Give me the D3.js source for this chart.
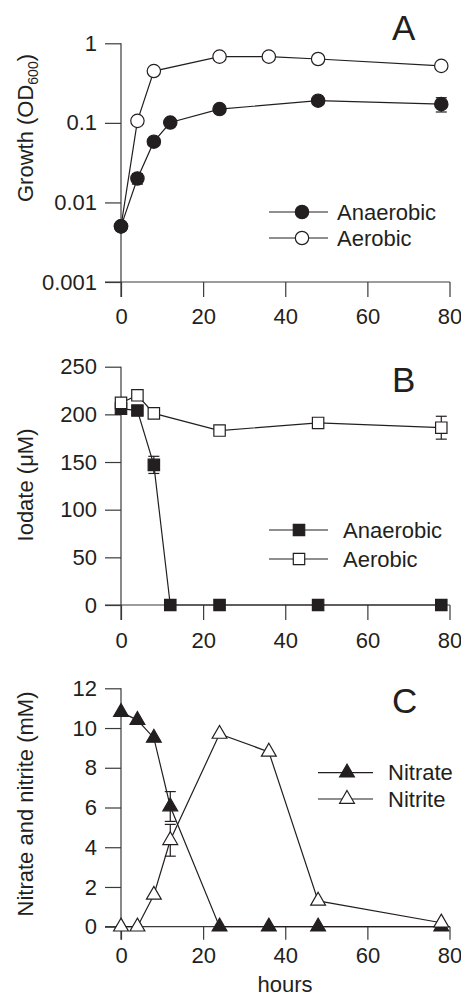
<!DOCTYPE html>
<html>
<head>
<meta charset="utf-8">
<script src="https://cdn.jsdelivr.net/npm/d3@7"></script>
<style>
  body { margin: 0; background: #fff; }
  svg { display: block; }
  text { font-family: "Liberation Sans", Arial, sans-serif; fill: #231f20; }
</style>
</head>
<body>
<svg id="chart"></svg>
<script>
// panel A - growth
var hoursAnaerobicA = [0, 4, 8, 12, 24, 48, 78];
var growthAnaerobic = [0.005, 0.02, 0.058, 0.101, 0.149, 0.19, 0.172];
var growthAnaerobicErr = [0, 0.003, 0, 0, 0, 0, 0.035];
var hoursAerobicA = [0, 4, 8, 24, 36, 48, 78];
var growthAerobic = [0.005, 0.106, 0.448, 0.68, 0.68, 0.635, 0.52];
var growthTicks = [1, 0.1, 0.01, 0.001];
var growthTickLabels = ['1', '0.1', '0.01', '0.001'];

// panel B - iodate
var hoursAnaerobicB = [0, 4, 8, 12, 24, 48, 78];
var iodateAnaerobic = [206, 204, 147, 0, 0, 0, 0];
var iodateAnaerobicErr = [0, 0, 9, 0, 0, 0, 0];
var hoursAerobicB = [0, 4, 8, 24, 48, 78];
var iodateAerobic = [212, 220, 201, 183, 191, 186];
var iodateAerobicErr = [0, 0, 0, 0, 0, 12];
var iodateTicks = [0, 50, 100, 150, 200, 250];

// panel C - nitrate / nitrite
var hoursC = [0, 4, 8, 12, 24, 36, 48, 78];
var nitrate = [10.8, 10.4, 9.5, 6.05, 0, 0, 0, 0];
var nitrateErr = [0, 0, 0, 0.75, 0, 0, 0, 0];
var nitrite = [0, 0, 1.6, 4.35, 9.7, 8.8, 1.3, 0.2];
var nitriteErr = [0, 0, 0, 0.8, 0, 0, 0, 0];
var nitrogenTicks = [0, 2, 4, 6, 8, 10, 12];

var hourTicks = [0, 20, 40, 60, 80];

var width = 461, height = 997;
var ink = '#231f20', axisInk = '#3a3a3a';

var svg = d3.select('#chart')
  .attr('width', width)
  .attr('height', height);

var x = d3.scaleLinear().domain([0, 80]).range([121, 449.5]);

function zip(xs, ys, es) {
  return xs.map(function(d, i) { return {x: d, y: ys[i], e: es ? es[i] : 0}; });
}

function drawPanel(p) {
  var g = svg.append('g');
  var y = p.y;

  // y axis
  var yAxis = d3.axisLeft(y)
    .tickValues(p.yTicks)
    .tickFormat(p.yFormat)
    .tickSize(16)
    .tickPadding(8)
    .tickSizeOuter(0);
  var ya = g.append('g')
    .attr('transform', 'translate(' + x(0) + ',0)')
    .call(yAxis);
  ya.select('.domain').remove();
  ya.selectAll('line').attr('stroke', axisInk).attr('stroke-width', 1.2);
  ya.selectAll('text').attr('font-size', '22px').style('fill', ink);

  g.append('line')
    .attr('x1', x(0)).attr('x2', x(0))
    .attr('y1', y.range()[1]).attr('y2', y.range()[0] + p.xTick)
    .attr('stroke', axisInk).attr('stroke-width', 1.2);

  // x axis
  var xAxis = d3.axisBottom(x)
    .tickValues(hourTicks)
    .tickSize(p.xTick)
    .tickPadding(p.xPad)
    .tickSizeOuter(0);
  var xa = g.append('g')
    .attr('transform', 'translate(0,' + y.range()[0] + ')')
    .call(xAxis);
  xa.select('.domain').remove();
  xa.selectAll('line').attr('stroke', axisInk).attr('stroke-width', 1.2);
  xa.selectAll('text').attr('font-size', '22px').style('fill', ink);

  g.append('line')
    .attr('x1', x(0) - 16).attr('x2', x(80) + 0.5)
    .attr('y1', y.range()[0]).attr('y2', y.range()[0])
    .attr('stroke', axisInk).attr('stroke-width', 1.2);

  // y label
  var yl = g.append('text')
    .attr('transform', 'translate(33,' + p.yLabelY + ') rotate(-90)')
    .attr('text-anchor', 'middle')
    .attr('font-size', '22px');
  p.yLabel(yl);

  if (p.xLabel) {
    g.append('text')
      .attr('x', 285).attr('y', 992)
      .attr('text-anchor', 'middle')
      .attr('font-size', '22px')
      .text(p.xLabel);
  }

  // panel letter
  g.append('text')
    .attr('x', 392).attr('y', p.letterY)
    .attr('font-size', '35px')
    .text(p.letter);

  var line = d3.line()
    .x(function(d) { return x(d.x); })
    .y(function(d) { return y(d.y); });

  p.series.forEach(function(s) {
    var pts = zip(s.xs, s.ys, s.es);
    g.append('path')
      .datum(pts)
      .attr('d', line)
      .attr('fill', 'none')
      .attr('stroke', ink)
      .attr('stroke-width', 1.2);

    // error bars
    pts.filter(function(d) { return d.e > 0; }).forEach(function(d) {
      var lo = y(d.y - d.e), hi = y(d.y + d.e);
      g.append('line')
        .attr('x1', x(d.x)).attr('x2', x(d.x))
        .attr('y1', lo).attr('y2', hi)
        .attr('stroke', ink).attr('stroke-width', 1.2);
      [lo, hi].forEach(function(v) {
        g.append('line')
          .attr('x1', x(d.x) - 5.5).attr('x2', x(d.x) + 5.5)
          .attr('y1', v).attr('y2', v)
          .attr('stroke', ink).attr('stroke-width', 1.2);
      });
    });

    g.selectAll(null)
      .data(pts)
      .enter().append('path')
      .attr('transform', function(d) { return 'translate(' + x(d.x) + ',' + y(d.y) + ')'; })
      .attr('d', d3.symbol().type(s.symbol).size(s.size))
      .attr('fill', s.filled ? ink : '#fff')
      .attr('stroke', ink)
      .attr('stroke-width', 1.2);
  });

  // legend
  p.legend.forEach(function(l, i) {
    var ly = p.legendY[i];
    g.append('line')
      .attr('x1', p.legendX[0]).attr('x2', p.legendX[2])
      .attr('y1', ly).attr('y2', ly)
      .attr('stroke', ink).attr('stroke-width', 1.2);
    g.append('path')
      .attr('transform', 'translate(' + p.legendX[1] + ',' + ly + ')')
      .attr('d', d3.symbol().type(l.symbol).size(l.size))
      .attr('fill', l.filled ? ink : '#fff')
      .attr('stroke', ink)
      .attr('stroke-width', 1.2);
    g.append('text')
      .attr('x', p.legendX[3]).attr('y', ly + 7.5)
      .attr('font-size', '22px')
      .text(l.name);
  });
}

var circleSize = 140, squareSize = 130, triSize = 95;

drawPanel({
  y: d3.scaleLog().domain([0.001, 1]).range([282, 43.3]),
  yTicks: growthTicks,
  yFormat: function(d, i) { return growthTickLabels[i]; },
  xTick: 15, xPad: 11,
  yLabelY: 128,
  yLabel: function(t) {
    t.append('tspan').text('Growth (OD');
    t.append('tspan').attr('font-size', '14px').attr('dy', 5).text('600');
    t.append('tspan').attr('dy', -5).text(')');
  },
  letter: 'A', letterY: 40,
  series: [
    {xs: hoursAerobicA, ys: growthAerobic, es: null, symbol: d3.symbolCircle, size: circleSize, filled: false},
    {xs: hoursAnaerobicA, ys: growthAnaerobic, es: growthAnaerobicErr, symbol: d3.symbolCircle, size: circleSize, filled: true}
  ],
  legendX: [269, 302, 328, 337],
  legendY: [212, 238],
  legend: [
    {name: 'Anaerobic', symbol: d3.symbolCircle, size: circleSize, filled: true},
    {name: 'Aerobic', symbol: d3.symbolCircle, size: circleSize, filled: false}
  ]
});

drawPanel({
  y: d3.scaleLinear().domain([0, 250]).range([605, 366.7]),
  yTicks: iodateTicks,
  yFormat: d3.format('d'),
  xTick: 15, xPad: 12,
  yLabelY: 485,
  yLabel: function(t) { t.text('Iodate (\u03bcM)'); },
  letter: 'B', letterY: 392,
  series: [
    {xs: hoursAnaerobicB, ys: iodateAnaerobic, es: iodateAnaerobicErr, symbol: d3.symbolSquare, size: squareSize, filled: true},
    {xs: hoursAerobicB, ys: iodateAerobic, es: iodateAerobicErr, symbol: d3.symbolSquare, size: squareSize, filled: false}
  ],
  legendX: [269, 299, 328, 343],
  legendY: [530, 559],
  legend: [
    {name: 'Anaerobic', symbol: d3.symbolSquare, size: squareSize, filled: true},
    {name: 'Aerobic', symbol: d3.symbolSquare, size: squareSize, filled: false}
  ]
});

drawPanel({
  y: d3.scaleLinear().domain([0, 12]).range([926.7, 688.3]),
  yTicks: nitrogenTicks,
  yFormat: d3.format('d'),
  xTick: 13, xPad: 8,
  yLabelY: 804,
  yLabel: function(t) { t.text('Nitrate and nitrite (mM)'); },
  xLabel: 'hours',
  letter: 'C', letterY: 713,
  series: [
    {xs: hoursC, ys: nitrate, es: nitrateErr, symbol: d3.symbolTriangle, size: triSize, filled: true},
    {xs: hoursC, ys: nitrite, es: nitriteErr, symbol: d3.symbolTriangle, size: triSize, filled: false}
  ],
  legendX: [318, 347, 373, 388],
  legendY: [772.7, 799],
  legend: [
    {name: 'Nitrate', symbol: d3.symbolTriangle, size: triSize, filled: true},
    {name: 'Nitrite', symbol: d3.symbolTriangle, size: triSize, filled: false}
  ]
});
</script>
</body>
</html>
